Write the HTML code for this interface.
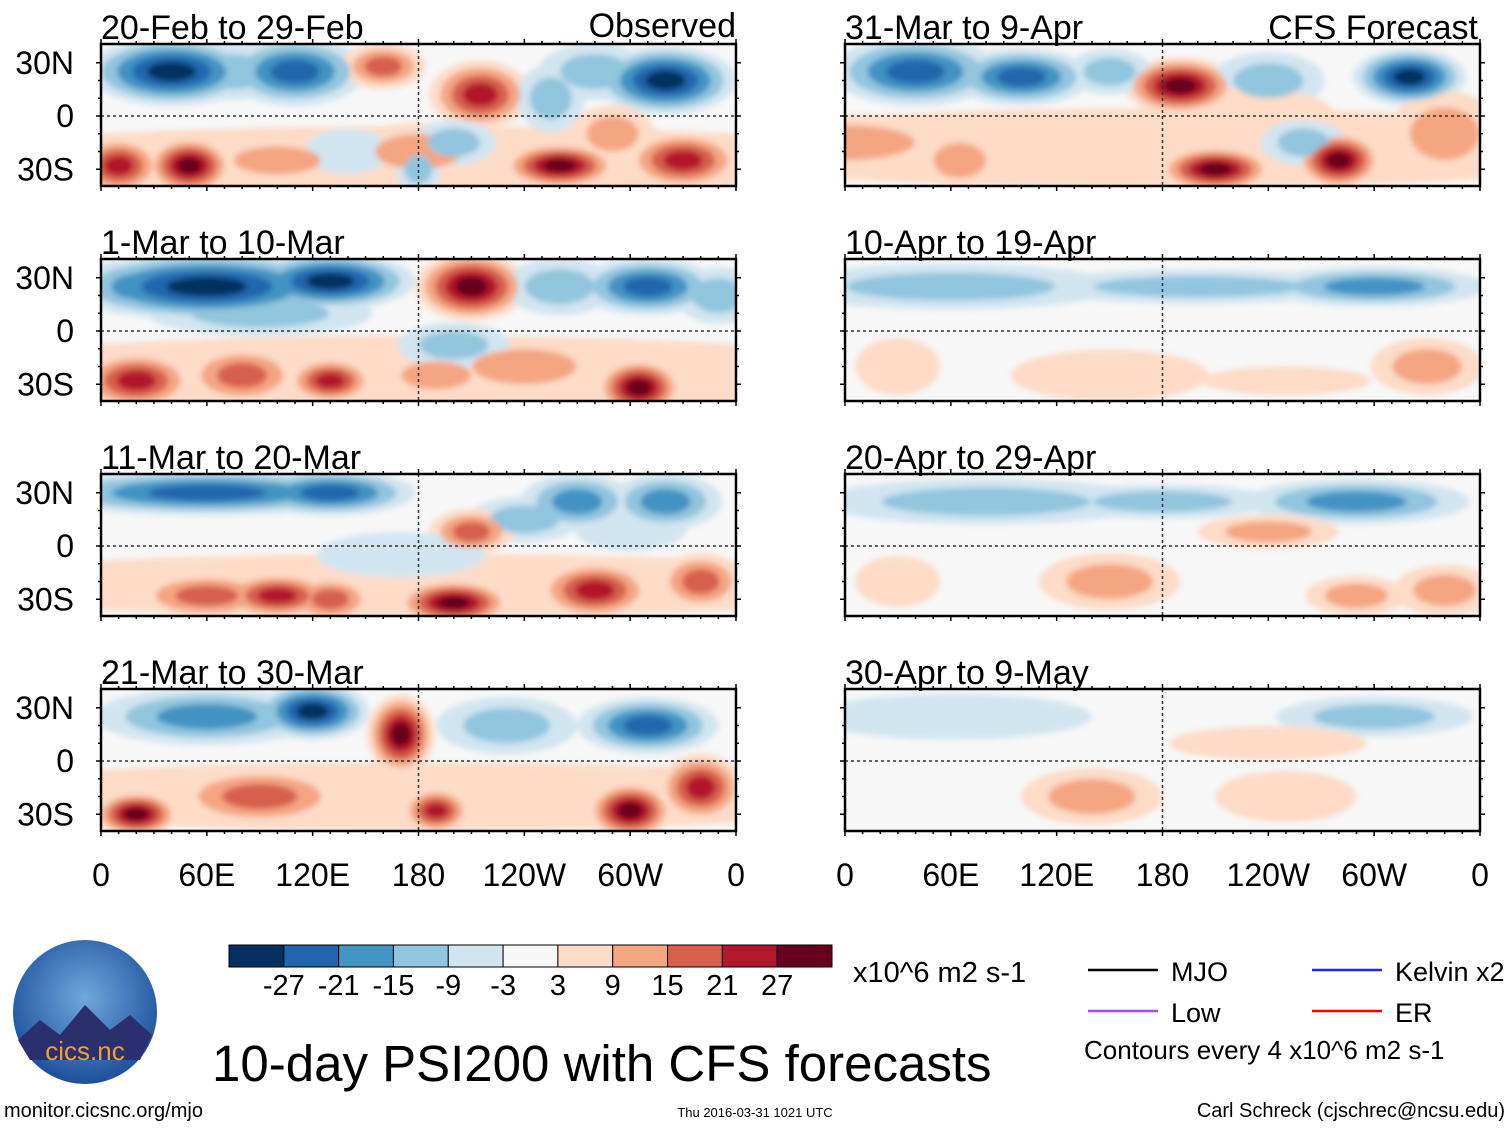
<!DOCTYPE html>
<html><head><meta charset="utf-8"><style>
body{margin:0;background:#fff;}
svg text{font-family:"Liberation Sans",sans-serif;}
</style></head><body>
<svg id="s" width="1510" height="1127" xmlns="http://www.w3.org/2000/svg">
<defs>
<filter id="bl" x="-50%" y="-50%" width="200%" height="200%"><feGaussianBlur stdDeviation="3"/></filter>
<radialGradient id="lg" cx="50%" cy="40%" r="60%"><stop offset="0" stop-color="#6fa8dc"/><stop offset="1" stop-color="#1c4f9c"/></radialGradient>
</defs>
</svg>
<script>
const levels=[-27,-21,-15,-9,-3,3,9,15,21,27];
const colors=["#053061","#2166ac","#4393c3","#92c5de","#d1e5f0","#f7f7f7","#fddbc7","#f4a582","#d6604d","#b2182b","#67001f"];
const panelTitles=["20-Feb to 29-Feb","1-Mar to 10-Mar","11-Mar to 20-Mar","21-Mar to 30-Mar","31-Mar to 9-Apr","10-Apr to 19-Apr","20-Apr to 29-Apr","30-Apr to 9-May"];
const latTicks=["30N","0","30S"];
const latVals=[30,0,-30];
const lonTicks=["0","60E","120E","180","120W","60W","0"];
const lonVals=[0,60,120,180,240,300,360];
// blobs: [lon, lat, value, rxDeg, ryDeg]
const blobs0=[[180,-25,4,180,12],[40,25,-27,30,12],[110,25,-24,25,12],[75,25,-12,20,10],[160,28,15,15,8],[215,12,21,18,12],[255,10,-12,12,12],[320,20,-27,25,12],[280,25,-9,20,10],[10,-28,21,15,10],[50,-28,27,15,10],[100,-25,12,25,8],[180,-20,12,25,10],[260,-28,27,20,8],[330,-25,21,20,10],[290,-10,12,15,10],[140,-20,-6,15,8],[200,-15,-12,15,8],[180,-30,-9,8,8]];
const blobs1=[[180,-25,4,180,14],[60,25,-27,50,12],[130,28,-27,30,10],[20,25,-15,20,10],[90,10,-9,40,8],[210,25,27,20,12],[260,25,-12,20,10],[310,25,-21,25,10],[350,20,-12,15,10],[20,-28,21,20,10],[80,-25,15,20,10],[130,-28,21,15,8],[190,-25,12,20,8],[305,-32,27,15,10],[240,-20,9,30,10],[200,-8,-9,20,8]];
const blobs2=[[180,-22,4,180,11],[60,30,-21,60,8],[130,30,-21,30,8],[240,15,-9,20,8],[270,25,-15,20,10],[320,25,-15,20,10],[210,8,15,15,8],[300,10,-6,20,8],[60,-28,15,25,8],[100,-28,21,20,8],[130,-30,15,15,8],[200,-32,27,20,8],[280,-25,21,20,10],[340,-20,15,15,10],[170,-5,-6,30,8]];
const blobs3=[[180,-20,5,180,12],[60,25,-15,40,10],[120,28,-27,20,10],[170,15,27,12,14],[230,20,-12,25,10],[310,20,-21,25,10],[20,-30,27,15,8],[90,-20,15,30,10],[190,-28,21,12,8],[300,-28,27,15,10],[340,-15,21,15,12]];
const blobs4=[[180,-18,4,180,14],[40,25,-21,30,12],[100,22,-21,25,10],[190,17,27,20,10],[240,20,-9,20,10],[320,22,-27,20,10],[150,25,-9,15,8],[230,0,6,30,10],[0,-15,9,40,10],[65,-25,12,15,10],[210,-30,27,20,8],[280,-25,27,15,10],[340,-10,12,20,15],[260,-15,-9,15,8]];
const blobs5=[[60,25,-9,60,8],[200,25,-9,60,6],[300,25,-15,40,7],[150,-25,6,35,9],[330,-20,9,20,10],[250,-28,6,30,5],[30,-20,6,15,10]];
const blobs6=[[80,25,-12,60,8],[180,25,-9,40,6],[290,25,-15,40,8],[240,8,9,25,6],[150,-20,9,25,10],[340,-25,12,18,9],[290,-28,9,18,7],[30,-20,6,15,9]];
const blobs7=[[60,25,-6,50,8],[300,25,-9,35,7],[140,-20,9,25,10],[240,10,6,35,6],[250,-20,6,25,9]];
const allBlobs=[blobs0,blobs1,blobs2,blobs3,blobs4,blobs5,blobs6,blobs7];

const NS="http://www.w3.org/2000/svg";
const svg=document.getElementById('s');
function mk(tag,attrs,parent){const e=document.createElementNS(NS,tag);for(const k in attrs)e.setAttribute(k,attrs[k]);(parent||svg).appendChild(e);return e;}
function colorFor(v){let i=0;while(i<levels.length&&v>levels[i])i++;return colors[i];}
const panelX=[101,845],panelY=[44,259,474,689],PW=635,PH=142;
const thresholds=[3,9,15,21,27];

for(let p=0;p<8;p++){
  const col=p<4?0:1,row=p%4;
  const x0=panelX[col],y0=panelY[row];
  const xs=lon=>x0+lon/360*PW;
  const ys=lat=>y0+PH/2+1-lat/40*(PH/2);
  const g=mk('g',{});
  
  
  mk('clipPath',{id:'c'+p},g);
  mk('rect',{x:x0,y:y0,width:PW,height:PH},document.getElementById('c'+p));
  const inner=mk('g',{'clip-path':'url(#c'+p+')'},g);
  mk('rect',{x:x0,y:y0,width:PW,height:PH,fill:colors[5]},inner);
  const bg=mk('g',{filter:'url(#bl)'},inner);
  thresholds.forEach((th,li)=>{
    for(const b of allBlobs[p]){
      const m=Math.abs(b[2]);
      if(m<th) continue;
      const nL=thresholds.filter(t=>t<=m).length;
      const scale=1.6*(1-li/(nL+0.6));
      const v=Math.sign(b[2])*(th+1);
      const e=mk('ellipse',{cx:xs(b[0]),cy:ys(b[1]),rx:Math.max(4,b[3]/360*PW*scale),ry:Math.max(3,b[4]/40*(PH/2)*scale),fill:colorFor(v)},bg);
      
      
    }
  });
  mk('line',{x1:x0,x2:x0+PW,y1:ys(0),y2:ys(0),stroke:'#333','stroke-dasharray':'3,3','stroke-width':1.5},g);
  mk('line',{x1:xs(180),x2:xs(180),y1:y0,y2:y0+PH,stroke:'#333','stroke-dasharray':'3,3','stroke-width':1.5},g);
  mk('rect',{x:x0,y:y0,width:PW,height:PH,fill:'none',stroke:'#000','stroke-width':2.5},g);
  for(let l=0;l<=360;l+=10){const big=l%60==0;
    mk('line',{x1:xs(l),x2:xs(l),y1:y0,y2:y0-(big?5:3),stroke:'#000','stroke-width':1.5},g);
    mk('line',{x1:xs(l),x2:xs(l),y1:y0+PH,y2:y0+PH+(big?5:3),stroke:'#000','stroke-width':1.5},g);}
  for(let la=-30;la<=30;la+=10){const big=la%30==0;
    mk('line',{x1:x0,x2:x0-(big?5:3),y1:ys(la),y2:ys(la),stroke:'#000','stroke-width':1.5},g);
    mk('line',{x1:x0+PW,x2:x0+PW+(big?5:3),y1:ys(la),y2:ys(la),stroke:'#000','stroke-width':1.5},g);}
  const t=mk('text',{x:x0,y:y0-5,'font-size':34},g);t.textContent=panelTitles[p];
  
  
  if(col==0){latVals.forEach((v,i)=>{const tt=mk('text',{x:74,y:ys(v)+11,'font-size':32,'text-anchor':'end'},g);tt.textContent=latTicks[i];});}
  if(row==3){lonVals.forEach((v,i)=>{const tt=mk('text',{x:xs(v),y:886,'font-size':32,'text-anchor':'middle'},g);tt.textContent=lonTicks[i];});}
}
let t1=mk('text',{x:736,y:37,'font-size':34,'text-anchor':'end'});t1.textContent='Observed';


let t2=mk('text',{x:1478,y:39,'font-size':34,'text-anchor':'end'});t2.textContent='CFS Forecast';



const cb=mk('g',{});


const cw=603/colors.length;
colors.forEach((c,i)=>mk('rect',{x:229+i*cw,y:945,width:cw,height:22,fill:c,stroke:'#000','stroke-width':1},cb));
levels.forEach((v,i)=>{const tt=mk('text',{x:229+(i+1)*cw,y:995,'font-size':29,'text-anchor':'middle'},cb);tt.textContent=String(v);});
let u=mk('text',{x:853,y:982,'font-size':29});u.textContent='x10^6 m2 s-1';



const lg=mk('g',{});


[[1088,'#000','MJO',972],[1312,'#2222ff','Kelvin x2',972],[1088,'#a050e0','Low',1013],[1312,'#ff0000','ER',1013]].forEach(a=>{
  mk('line',{x1:a[0],x2:a[0]+70,y1:a[3]-2,y2:a[3]-2,stroke:a[1],'stroke-width':2.5},lg);
  const tt=mk('text',{x:a[0]+83,y:a[3]+9,'font-size':27},lg);tt.textContent=a[2];});
let ce=mk('text',{x:1084,y:1059,'font-size':26});ce.textContent='Contours every 4 x10^6 m2 s-1';
let mt=mk('text',{x:212,y:1081,'font-size':51});mt.textContent='10-day PSI200 with CFS forecasts';


let f1=mk('text',{x:4,y:1117,'font-size':20});f1.textContent='monitor.cicsnc.org/mjo';
let f2=mk('text',{x:755,y:1117,'font-size':13,'text-anchor':'middle'});f2.textContent='Thu 2016-03-31 1021 UTC';
let f3=mk('text',{x:1505,y:1117,'font-size':20,'text-anchor':'end'});f3.textContent='Carl Schreck (cjschrec@ncsu.edu)';
const lo=mk('g',{});


mk('circle',{cx:85,cy:1012,r:72,fill:'url(#lg)'},lo);
mk('path',{d:'M18,1040 L40,1020 L60,1035 L85,1005 L110,1030 L130,1015 L152,1035 L140,1060 L30,1060 Z',fill:'#2a2f6e'},lo);
let lt=mk('text',{x:85,y:1060,'font-size':26,'text-anchor':'middle',fill:'#f0a030'},lo);lt.textContent='cics.nc';
</script>
</body></html>
